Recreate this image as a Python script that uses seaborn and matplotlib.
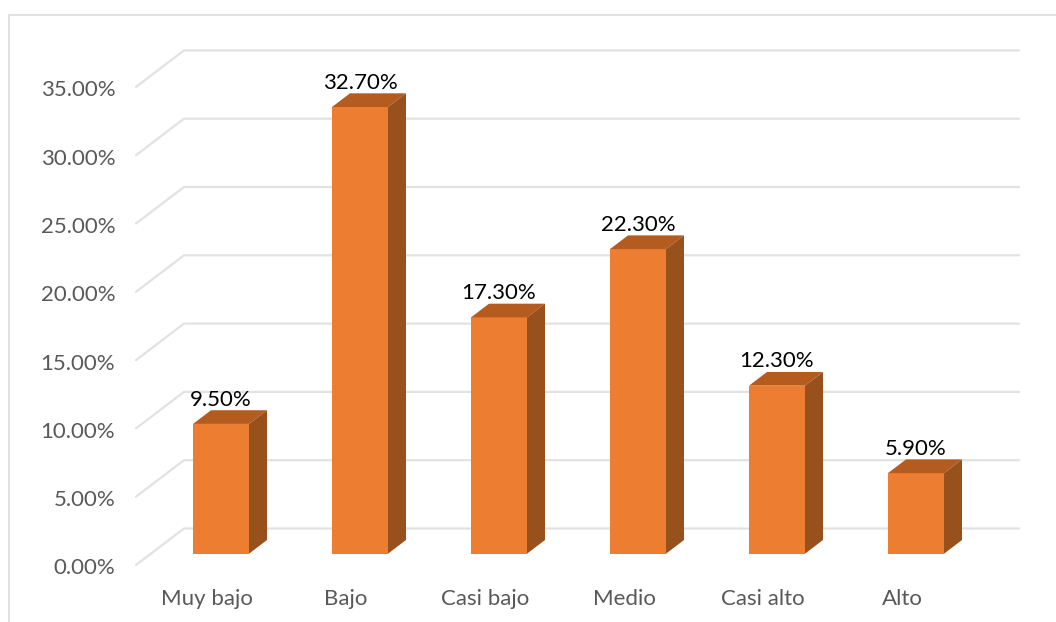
import matplotlib
matplotlib.use('Agg')
import matplotlib.pyplot as plt
import seaborn as sns
from matplotlib.lines import Line2D
from matplotlib.patches import Polygon
from matplotlib.transforms import ScaledTranslation

categorias = ['Muy bajo', 'Bajo', 'Casi bajo', 'Medio', 'Casi alto', 'Alto']
valores = [9.5, 32.7, 17.3, 22.3, 12.3, 5.9]
ticks_y = [0, 5, 10, 15, 20, 25, 30, 35]

W, H = 1056, 622
px_cat = 139.0    # pixels per category
px_pct = 13.66    # pixels per percent

sns.set_style('white')
plt.rcParams['font.family'] = ['Lato', 'DejaVu Sans']

fig = plt.figure(figsize=(W / 100, H / 100), dpi=100)
# axes box: left end of the grid to right end, floor front up to the frame
x0, x1, y0, y1 = 136, 1019, 565, 15
ax = fig.add_axes([x0 / W, 1 - y0 / H, (x1 - x0) / W, (y0 - y1) / H])

# fake 3d depth, in data units
base = 11.3 / px_pct
bar_dx = 18 / px_cat
bar_dy = 13.7 / px_pct
wall_dx = 48 / px_cat
wall_dy = 36.5 / px_pct
ancho = 56 / px_cat

sns.barplot(x=categorias, y=valores, color='#ED7D31', saturation=1,
            width=ancho, bottom=base, ax=ax, zorder=3, linewidth=0)

xmin = (x0 - 221) / px_cat
xmax = (x1 - 221) / px_cat
ax.set_xlim(xmin, xmax)
ax.set_ylim(0, (y0 - y1) / px_pct)

# gridlines go back along the wall, then across
for t in ticks_y:
    ax.plot([xmin, xmin + wall_dx, xmax],
            [t, t + wall_dy, t + wall_dy],
            color='#E2E2E2', lw=1.6, zorder=1, clip_on=False)

for i, v in enumerate(valores):
    izq = i - ancho / 2
    der = i + ancho / 2
    tope = base + v
    # top face
    ax.add_patch(Polygon([(izq, tope), (der, tope),
                          (der + bar_dx, tope + bar_dy), (izq + bar_dx, tope + bar_dy)],
                         closed=True, fc='#B45C20', ec='none', zorder=3))
    # side face
    ax.add_patch(Polygon([(der, base), (der + bar_dx, base + bar_dy),
                          (der + bar_dx, tope + bar_dy), (der, tope)],
                         closed=True, fc='#98501C', ec='none', zorder=3))
    ax.annotate(f'{v:.2f}%', (i, tope), xytext=(0, 17.5), textcoords='offset points',
                ha='center', va='center', fontsize=16, color='black', zorder=4)

sns.despine(ax=ax, left=True, bottom=True)
ax.set_xlabel('')
ax.set_ylabel('')
ax.set_yticks(ticks_y)
ax.set_yticklabels([f'{t:.2f}%' for t in ticks_y])
ax.set_xticks(range(len(categorias)))
ax.set_xticklabels(categorias)
ax.tick_params(axis='y', length=0, pad=15, labelsize=16, labelcolor='#595959')
ax.tick_params(axis='x', length=0, pad=17, labelsize=16, labelcolor='#595959')

# x labels sit a bit left of their bars in the original
corrimiento = ScaledTranslation(-14 / 100, 0, fig.dpi_scale_trans)
for lab in ax.get_xticklabels():
    lab.set_transform(lab.get_transform() + corrimiento)
# y labels sit slightly under their gridline ends
bajada = ScaledTranslation(0, -1.5 / 100, fig.dpi_scale_trans)
for lab in ax.get_yticklabels():
    lab.set_transform(lab.get_transform() + bajada)

# outer chart frame, cut off at right and bottom
fig.add_artist(Line2D([9 / W, 9 / W, 1], [0, 1 - 15 / H, 1 - 15 / H],
                      color='#DEDEDE', lw=1.3))

fig.savefig('out.png', dpi=100)
